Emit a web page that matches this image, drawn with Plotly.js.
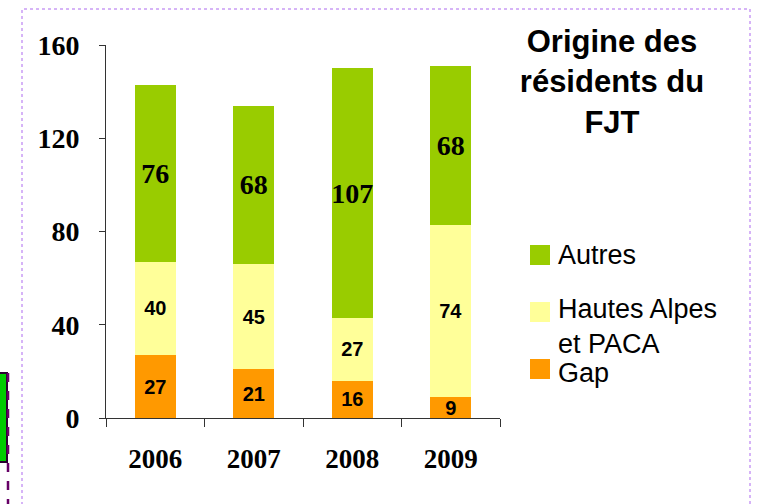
<!DOCTYPE html>
<html>
<head>
<meta charset="utf-8">
<script src="https://cdn.plot.ly/plotly-3.0.1.min.js"></script>
<style>
  html, body { margin: 0; padding: 0; background: #fff; }
  #chart { width: 762px; height: 504px; }
</style>
</head>
<body>
<div id="chart"></div>
<script>
const years = ["2006", "2007", "2008", "2009"];
const gap = [27, 21, 16, 9];
const hautesAlpes = [40, 45, 27, 74];
const autres = [76, 68, 107, 68];
const seriesNames = ["Gap", "Hautes Alpes et PACA", "Autres"];
const legendLabels = ["Gap", "Hautes Alpes<br>et PACA", "Autres"];
const seriesColors = ["#ff9900", "#ffff99", "#99cc00"];
const yTicks = [0, 40, 80, 120, 160];

// plot area in pixels, used for the decorations only
const L = 106, R = 500, T = 45, B = 418;
const px = x => (x - L) / (R - L);
const py = y => (B - y) / (B - T);

const sans = "Arial, 'Liberation Sans', sans-serif";
const serif = "'Times New Roman', 'Liberation Serif', serif";

function barTrace(values, i, font) {
    return {
        type: "bar",
        x: years,
        y: values,
        name: seriesNames[i],
        marker: { color: seriesColors[i], line: { width: 0 } },
        text: values.map(String),
        textposition: "inside",
        insidetextanchor: "middle",
        textangle: 0,
        constraintext: "none",
        textfont: font,
        showlegend: false,
        hoverinfo: "x+y+name"
    };
}

const smallFont = { family: sans, size: 20, weight: "bold", color: "black" };
const bigFont = { family: serif, size: 28, weight: "bold", color: "black" };

const data = [
    barTrace(gap, 0, smallFont),
    barTrace(hautesAlpes, 1, smallFont),
    barTrace(autres, 2, bigFont)
];

// legend drawn by hand so the swatches and spacing match
const legendY = [373, 326, 255];
const shapes = [];
const annotations = [];
legendY.forEach((y, i) => {
    const sy = i === 1 ? 312 : (i === 0 ? 369 : y);
    shapes.push({
        type: "rect", xref: "paper", yref: "paper",
        x0: px(530), x1: px(550), y0: py(sy - 10), y1: py(sy + 10),
        fillcolor: seriesColors[i], line: { width: 0 }
    });
    annotations.push({
        xref: "paper", yref: "paper", x: px(556), y: py(y),
        xanchor: "left", yanchor: "middle", align: "left",
        text: legendLabels[i], showarrow: false,
        font: { family: sans, size: 27, color: "black" }
    });
});

// dotted frame round the chart
shapes.push({
    type: "rect", xref: "paper", yref: "paper",
    x0: px(22), x1: px(750), y0: py(520), y1: py(9),
    line: { color: "#c99cf5", width: 1.5, dash: "dot" }, layer: "below"
});
// piece of the neighbouring box at the left edge
shapes.push({
    type: "rect", xref: "paper", yref: "paper",
    x0: px(-10), x1: px(7), y0: py(462), y1: py(373),
    fillcolor: "#00cc00", line: { color: "#2a0030", width: 2 }
});
shapes.push({
    type: "line", xref: "paper", yref: "paper",
    x0: px(8), x1: px(8), y0: py(373), y1: py(520),
    line: { color: "#660066", width: 2.5, dash: "dash" }
});

const layout = {
    width: 762,
    height: 504,
    margin: { l: L, r: 762 - R, t: T, b: 504 - B },
    paper_bgcolor: "white",
    plot_bgcolor: "white",
    barmode: "stack",
    bargap: 0.58,
    showlegend: false,
    title: {
        text: "<b>Origine des<br>résidents du<br>FJT</b>",
        font: { family: sans, size: 31, color: "black" },
        xref: "container", yref: "container",
        x: 612 / 762, xanchor: "center",
        y: 1 - 52 / 504, yanchor: "top"
    },
    xaxis: {
        type: "category",
        range: [-0.5, 3.5],
        showline: true, linecolor: "#333", linewidth: 1,
        ticks: "outside", tickson: "boundaries", ticklen: 8, tickcolor: "#333",
        ticklabelstandoff: 17,
        tickfont: { family: serif, size: 27, weight: "bold", color: "black" },
        showgrid: false, zeroline: false, fixedrange: true
    },
    yaxis: {
        range: [0, 160],
        tickvals: yTicks,
        showline: true, linecolor: "#333", linewidth: 1,
        ticks: "outside", ticklen: 6, tickcolor: "#333",
        ticklabelstandoff: 14,
        tickfont: { family: serif, size: 28, weight: "bold", color: "black" },
        showgrid: false, zeroline: false, fixedrange: true
    },
    shapes: shapes,
    annotations: annotations
};

Plotly.newPlot("chart", data, layout, { displayModeBar: false, staticPlot: true });
</script>
</body>
</html>
